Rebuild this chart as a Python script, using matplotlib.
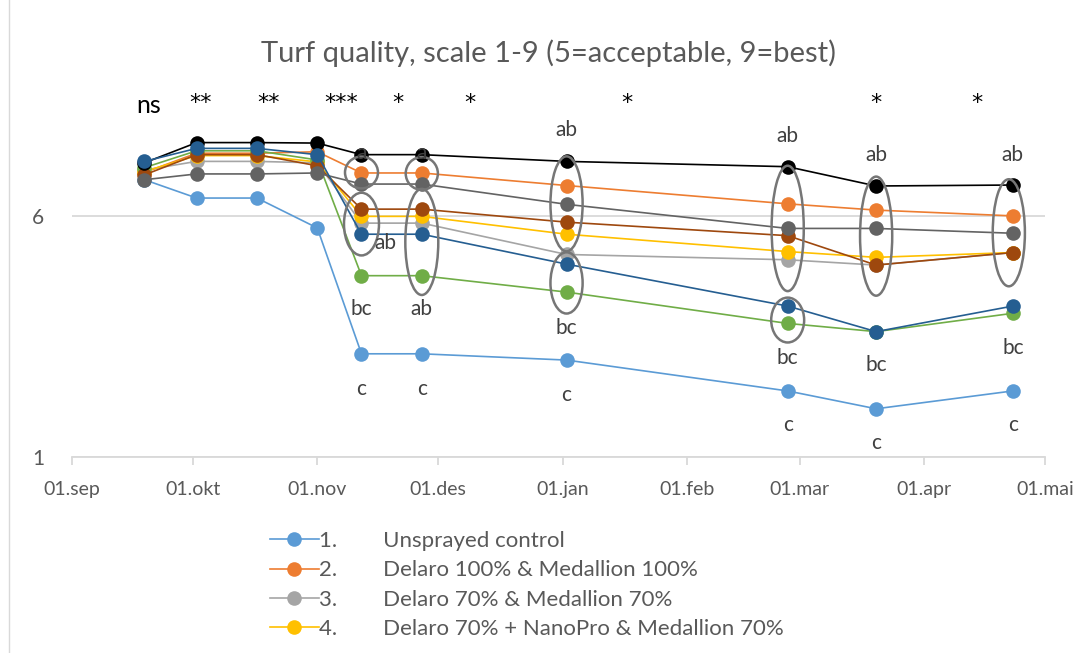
import matplotlib
matplotlib.use("Agg")
import matplotlib.pyplot as plt
import matplotlib.dates as mdates
from matplotlib.patches import Ellipse
from datetime import datetime

plt.rcParams['font.family'] = ['Lato', 'DejaVu Sans']

dates = ["2018-09-19", "2018-10-02", "2018-10-17", "2018-11-01", "2018-11-12",
         "2018-11-27", "2019-01-02", "2019-02-26", "2019-03-20", "2019-04-23"]

s1_control   = [6.75, 6.37, 6.37, 5.75, 3.14, 3.14, 3.01, 2.37, 2.00, 2.37]
s2_d100      = [6.90, 7.30, 7.30, 7.33, 6.89, 6.89, 6.63, 6.25, 6.12, 6.00]
s3_d70       = [6.95, 7.13, 7.13, 7.10, 5.85, 5.85, 5.20, 5.09, 4.98, 5.24]
s4_d70nano   = [6.92, 7.25, 7.25, 7.12, 5.99, 5.99, 5.62, 5.26, 5.14, 5.24]
s5_green     = [7.00, 7.35, 7.35, 7.16, 4.76, 4.76, 4.42, 3.77, 3.60, 3.98]
s6_brown     = [6.85, 7.27, 7.27, 7.04, 6.14, 6.14, 5.87, 5.59, 4.98, 5.24]
s7_darkgray  = [6.75, 6.87, 6.87, 6.89, 6.66, 6.66, 6.24, 5.74, 5.74, 5.64]
s8_black     = [7.10, 7.52, 7.52, 7.51, 7.27, 7.27, 7.13, 7.02, 6.62, 6.64]
s9_darkblue  = [7.13, 7.40, 7.40, 7.27, 5.62, 5.62, 5.00, 4.13, 3.60, 4.13]

labels = ["1.        Unsprayed control",
          "2.        Delaro 100% & Medallion 100%",
          "3.        Delaro 70% & Medallion 70%",
          "4.        Delaro 70% + NanoPro & Medallion 70%",
          "5.", "6.", "7.", "8.", "9."]
colors = ["#5B9BD5", "#ED7D31", "#A5A5A5", "#FFC000", "#70AD47",
          "#9E480E", "#636363", "#000000", "#255E91"]
series = [s1_control, s2_d100, s3_d70, s4_d70nano, s5_green,
          s6_brown, s7_darkgray, s8_black, s9_darkblue]

sig_dates = ["2018-09-20", "2018-10-03", "2018-10-20", "2018-11-07", "2018-11-21",
             "2018-12-09", "2019-01-17", "2019-03-20", "2019-04-14"]
sig_text = ["ns", "**", "**", "***", "*", "*", "*", "*", "*"]

letter_items = [
    ("2018-11-12", 7.30, "a"), ("2018-11-27", 7.30, "a"),
    ("2019-01-02", 7.78, "ab"), ("2019-02-26", 7.66, "ab"),
    ("2019-03-20", 7.27, "ab"), ("2019-04-23", 7.27, "ab"),
    ("2018-11-18", 5.43, "ab"), ("2018-11-12", 4.06, "bc"),
    ("2018-11-27", 4.06, "ab"), ("2019-01-02", 3.68, "bc"),
    ("2019-02-26", 3.06, "bc"), ("2019-03-20", 2.91, "bc"),
    ("2019-04-23", 3.26, "bc"),
    ("2018-11-12", 2.40, "c"), ("2018-11-27", 2.40, "c"),
    ("2019-01-02", 2.28, "c"), ("2019-02-26", 1.66, "c"),
    ("2019-03-20", 1.29, "c"), ("2019-04-23", 1.66, "c"),
]

# ellipses: (center date, center value, width days, height value)
ellipse_items = [
    ("2018-11-12", 6.90, 8.2, 0.66), ("2018-11-12", 5.83, 8.7, 1.30),
    ("2018-11-27", 6.88, 8.0, 0.68), ("2018-11-27", 5.46, 8.2, 2.20),
    ("2019-01-02", 6.25, 8.0, 1.97), ("2019-01-02", 4.61, 8.0, 1.27),
    ("2019-02-26", 5.74, 8.0, 2.60), ("2019-02-26", 3.84, 8.2, 0.93),
    ("2019-03-20", 5.58, 8.0, 2.47), ("2019-04-22", 5.65, 8.0, 2.22),
]

def d(s):
    return datetime.strptime(s, "%Y-%m-%d")

fig = plt.figure(figsize=(10.74, 6.53), dpi=100)
ax = fig.add_axes([72/1074, 1-457/653, (1045-72)/1074, (457-23)/653])

x = [d(s) for s in dates]
for vals, c, lab in zip(series, colors, labels):
    ax.plot(x, vals, color=c, lw=1.2, marker='o', markersize=10.5,
            markeredgewidth=0, label=lab, zorder=3)

for (ds, v, w, h) in ellipse_items:
    e = Ellipse((mdates.date2num(d(ds)), v), width=w, height=h, fill=False,
                edgecolor="#767676", lw=1.8, zorder=4)
    ax.add_patch(e)

for ds, t in zip(sig_dates, sig_text):
    if t == "ns":
        ax.text(d(ds), 8.28, t, ha='center', va='center', fontsize=18, color='black')
    else:
        ax.text(d(ds), 8.35, t, ha='center', va='center', fontsize=16,
                color='black', family='DejaVu Sans')

for ds, v, t in letter_items:
    ax.text(d(ds), v, t, ha='center', va='center', fontsize=15, color='#404040', zorder=5)

ax.set_xlim(d("2018-09-01"), d("2019-05-01"))
ax.set_ylim(1, 10)
ax.set_yticks([1, 6])
ax.set_yticklabels(["1", "6"])
ticks = [d(s) for s in ["2018-09-01", "2018-10-01", "2018-11-01", "2018-12-01",
                        "2019-01-01", "2019-02-01", "2019-03-01", "2019-04-01", "2019-05-01"]]
ax.set_xticks(ticks)
ax.set_xticklabels(["01.sep", "01.okt", "01.nov", "01.des", "01.jan",
                    "01.feb", "01.mar", "01.apr", "01.mai"])
ax.grid(axis='y', color='#D9D9D9', lw=1.3, zorder=0)
ax.set_axisbelow(True)
for sp in ['top', 'right', 'left']:
    ax.spines[sp].set_visible(False)
ax.spines['bottom'].set_color('#D9D9D9')
ax.spines['bottom'].set_linewidth(1.3)
ax.tick_params(axis='x', colors='#595959', labelsize=14, length=6, width=1.3,
               color='#D9D9D9', pad=11)
ax.tick_params(axis='y', colors='#595959', labelsize=15, length=0, pad=20)

ax.text(0.49, 0.93, "Turf quality, scale 1-9 (5=acceptable, 9=best)",
        transform=ax.transAxes, ha='center', va='center', fontsize=21, color='#595959')

handles, labs = ax.get_legend_handles_labels()
leg = fig.legend(handles[:4], labs[:4], loc='upper left',
                 bbox_to_anchor=(250/1074, 1-511/653), frameon=False,
                 fontsize=16, labelcolor='#595959', handlelength=2.2,
                 labelspacing=0.42, handletextpad=0.0)

fig.add_artist(plt.Line2D([9/1074, 9/1074], [0, 1], color='#D9D9D9', lw=1))
fig.savefig("out.png", dpi=100)
